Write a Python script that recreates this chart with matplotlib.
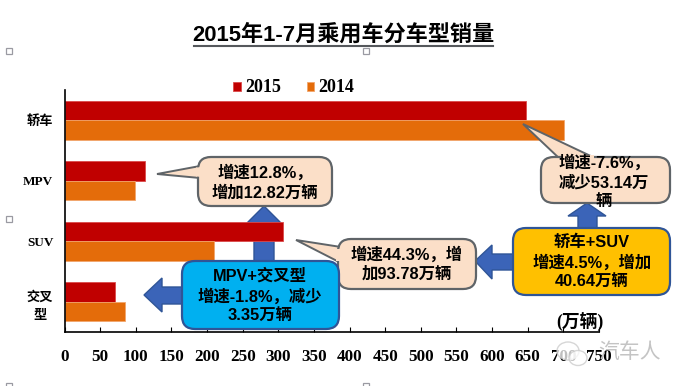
import matplotlib
matplotlib.use('Agg')
import matplotlib.pyplot as plt
from matplotlib.patches import FancyBboxPatch, Polygon, Ellipse, Rectangle
from matplotlib.transforms import Affine2D
import numpy as np

categories = ['轿车', 'MPV', 'SUV', '交叉\n型']
sales_2015 = [648, 113, 306, 71]
sales_2014 = [701, 99, 210, 85]
xticks = list(range(0, 751, 50))

W, H = 681, 386
SERIF = ['Liberation Serif', 'Noto Sans CJK SC']
SANS = ['Liberation Sans', 'Noto Sans CJK SC']
RED = '#C00000'
ORANGE = '#E46C0A'
BLUE = '#3B64B8'
BLUE_EDGE = '#2F5597'
PEACH = '#FBDFC8'
GREY = '#5F6468'

fig = plt.figure(figsize=(W / 100, H / 100), dpi=100)
ax = fig.add_axes([64.5 / W, 1 - 332 / H, (599 - 64.5) / W, (332 - 90) / H])
ax.patch.set_alpha(0)

# annotation layer is placed in image pixels, y down
px = Affine2D().scale(1, -1).translate(0, H)

# bars
pos = np.arange(len(categories)) + 0.5
b15 = ax.barh(pos - 0.162, sales_2015, 0.325, color=RED, edgecolor='#DB4A4A', linewidth=0.6, zorder=2, label='2015')
b14 = ax.barh(pos + 0.162, sales_2014, 0.325, color=ORANGE, edgecolor='#F2A56B', linewidth=0.6, zorder=2, label='2014')

ax.set_xlim(0, 750)
ax.set_ylim(4, 0)
ax.set_xticks(xticks)
ax.set_xticklabels([str(t) for t in xticks], family=SERIF, weight='bold', fontsize=12.3)
ax.set_yticks(pos)
ax.set_yticklabels(categories, family=SERIF, weight='bold', fontsize=9.5, multialignment='center', linespacing=1.75)
ax.tick_params(axis='x', direction='in', length=3.5, width=0.8, pad=12.5)
ax.tick_params(axis='y', length=0, pad=8)
for s in ['top', 'right']:
    ax.spines[s].set_visible(False)
for s in ['left', 'bottom']:
    ax.spines[s].set_linewidth(1.2)
    ax.spines[s].set_zorder(2.5)

ax.legend(handles=[b15, b14], ncol=2, loc='center', bbox_to_anchor=(294, 88), bbox_transform=px,
          frameon=False, prop={'family': SERIF, 'weight': 'bold', 'size': 13},
          handlelength=0.39, handleheight=0.39, handletextpad=0.25, columnspacing=1.45, borderpad=0)


def poly(points, fc, ec=None, z=3, lw=1.0):
    ax.add_patch(Polygon(points, closed=True, facecolor=fc, edgecolor=ec if ec else 'none', linewidth=lw,
                         transform=px, clip_on=False, zorder=z))


def rbox(x0, y0, x1, y1, fc, ec, z=4, lw=1.6, r=13):
    ax.add_patch(FancyBboxPatch((x0, y0), x1 - x0, y1 - y0, boxstyle='round,pad=0,rounding_size=%d' % r,
                                facecolor=fc, edgecolor=ec, linewidth=lw, transform=px, clip_on=False, zorder=z))


def label(x, y, s, size=11.8, family=SANS, color='black', weight='bold', z=6):
    ax.text(x, y, s, transform=px, ha='center', va='center', fontsize=size, family=family, weight=weight,
            color=color, multialignment='center', linespacing=1.32, clip_on=False, zorder=z)


# block arrows, the first one passes behind the SUV bar
poly([(264, 206), (281, 223), (274, 223), (274, 262), (254, 262), (254, 223), (247, 223)], BLUE, BLUE_EDGE, z=1)
poly([(587, 203), (606, 216), (597, 216), (597, 229), (578, 229), (578, 216), (568, 216)], BLUE, BLUE_EDGE, z=3)
poly([(144, 295), (162, 278), (162, 287), (183, 287), (183, 304), (162, 304), (162, 312)], BLUE, BLUE_EDGE, z=3)
poly([(475, 261), (492, 245), (492, 254), (514, 254), (514, 270), (492, 270), (492, 279)], BLUE, BLUE_EDGE, z=3)

# callouts with tails
poly([(157, 174), (200, 166), (200, 178)], PEACH, GREY, z=3, lw=1.4)
rbox(198, 157, 332, 206, PEACH, GREY)
poly([(196, 167.5), (203, 167), (203, 177), (196, 176.5)], PEACH, z=5)
label(265, 182.5, '增速12.8%，\n增加12.82万辆')

poly([(523, 124), (560, 159), (597, 159)], PEACH, GREY, z=3, lw=1.4)
rbox(541, 157, 670, 203, PEACH, GREY)
poly([(562, 155), (594, 155), (594, 160), (562, 160)], PEACH, z=5)
label(604, 182, '增速-7.6%，\n减少53.14万\n辆')

poly([(296, 240), (341, 247), (341, 263)], PEACH, GREY, z=3, lw=1.4)
rbox(338, 239, 476, 289, PEACH, GREY)
poly([(336, 248.5), (343, 248.5), (343, 261), (336, 261)], PEACH, z=5)
label(407, 264, '增速44.3%，增\n加93.78万辆')

rbox(513, 228, 670, 295, '#FFC000', BLUE_EDGE)
label(592, 262, '轿车+SUV\n增速4.5%，增加\n40.64万辆')
rbox(182, 261, 339, 329, '#00B0F0', BLUE_EDGE)
label(260, 296, 'MPV+交叉型\n增速-1.8%，减少\n3.35万辆')

label(580, 321, '(万辆)', size=12.8, family=SERIF)

# title
label(343.5, 35, '2015年1-7月乘用车分车型销量', size=15.9)
ax.plot([194, 493], [45.5, 45.5], transform=px, color='#55585C', lw=1.5, clip_on=False, zorder=6)

# selection handles left in the screenshot
for hx, hy in [(6, 48), (363, 48), (6, 216), (6, 383), (363, 383)]:
    ax.add_patch(Rectangle((hx, hy), 6, 6, facecolor='white', edgecolor='#9A9AA2', linewidth=0.9,
                           transform=px, clip_on=False, zorder=7))

# watermark
for cx, cy, w, h in [(568, 351, 22, 18), (578, 358, 18, 15)]:
    ax.add_patch(Ellipse((cx, cy), w, h, facecolor='white', edgecolor='#C9C9C9', linewidth=1.0, alpha=0.75,
                         transform=px, clip_on=False, zorder=8))
label(630, 352, '汽车人', size=15, family=['Noto Sans CJK SC'], color='#C4C4C4', weight='normal', z=8)

fig.savefig('out.png', dpi=100)
